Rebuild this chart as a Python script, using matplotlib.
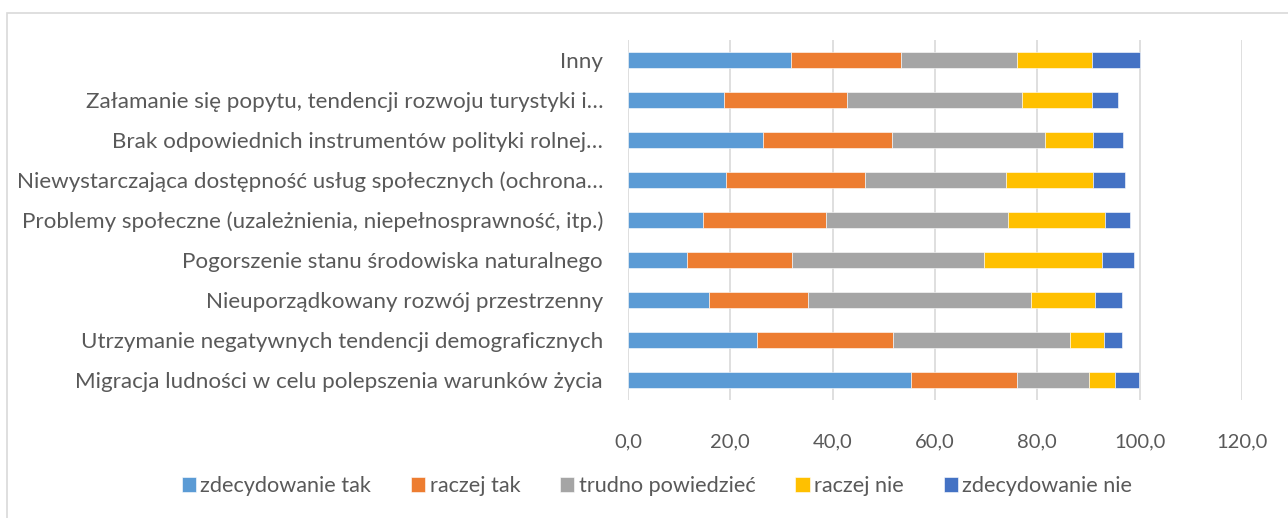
import matplotlib
matplotlib.use("Agg")
import matplotlib.pyplot as plt
from matplotlib.patches import Rectangle
import numpy as np

plt.rcParams['font.family'] = ['Lato', 'DejaVu Sans']

categories = [
    "Migracja ludności w celu polepszenia warunków życia",
    "Utrzymanie negatywnych tendencji demograficznych",
    "Nieuporządkowany rozwój przestrzenny",
    "Pogorszenie stanu środowiska naturalnego",
    "Problemy społeczne (uzależnienia, niepełnosprawność, itp.)",
    "Niewystarczająca dostępność usług społecznych (ochrona…",
    "Brak odpowiednich instrumentów polityki rolnej…",
    "Załamanie się popytu, tendencji rozwoju turystyki i…",
    "Inny",
]
series_names = ["zdecydowanie tak", "raczej tak", "trudno powiedzieć",
                "raczej nie", "zdecydowanie nie"]
zdecydowanie_tak = [55.4, 25.3, 15.9, 11.6, 14.7, 19.2, 26.3, 18.7, 31.9]
raczej_tak       = [20.7, 26.5, 19.3, 20.5, 24.0, 27.1, 25.2, 24.1, 21.4]
trudno           = [14.0, 34.6, 43.5, 37.5, 35.6, 27.6, 30.0, 34.2, 22.8]
raczej_nie       = [5.1, 6.7, 12.5, 23.1, 19.0, 17.0, 9.4, 13.6, 14.6]
zdecydowanie_nie = [4.7, 3.5, 5.4, 6.2, 4.9, 6.3, 5.9, 5.2, 9.3]
x_ticks = [0, 20, 40, 60, 80, 100, 120]

colors = ["#5B9BD5", "#ED7D31", "#A5A5A5", "#FFC000", "#4472C4"]
text_color = "#595959"

fig = plt.figure(figsize=(12.88, 5.18), dpi=100)
ax = fig.add_axes([628/1288, 1-400/518, (1242-628)/1288, 360/518])

data = [zdecydowanie_tak, raczej_tak, trudno, raczej_nie, zdecydowanie_nie]
y = np.arange(len(categories))
left = np.zeros(len(categories))
handles = []
for vals, name, c in zip(data, series_names, colors):
    vals = np.array(vals)
    h = ax.barh(y, vals, left=left, height=0.41, color=c, label=name,
                edgecolor="white", linewidth=0.4, zorder=3)
    handles.append(h)
    left += vals

ax.set_xlim(0, 120)
ax.set_ylim(-0.5, len(categories) - 0.5)
ax.set_xticks(x_ticks)
ax.set_xticklabels([f"{v:.1f}".replace(".", ",") for v in x_ticks])
ax.set_yticks(y)
ax.set_yticklabels(categories)
ax.tick_params(axis="both", length=0, colors=text_color)
ax.tick_params(axis="x", pad=24, labelsize=14.5)
ax.tick_params(axis="y", pad=18, labelsize=16.1)
ax.grid(axis="x", color="#D9D9D9", linewidth=1.2, zorder=0)
for s in ax.spines.values():
    s.set_visible(False)

leg = fig.legend(handles=handles, labels=series_names, loc="center",
                 bbox_to_anchor=(657/1288, 1-486/518), ncol=5, frameon=False,
                 fontsize=15.6, handlelength=0.65, handleheight=0.65,
                 handletextpad=0.2, columnspacing=1.85)
for t in leg.get_texts():
    t.set_color(text_color)

# outer chart border (top and left visible)
fig.patches.append(Rectangle((7/1288, -0.2), 1.5, 1 - 12.5/518 + 0.2,
                             transform=fig.transFigure, fill=False,
                             edgecolor="#D9D9D9", linewidth=1.2))

fig.savefig("out.png", dpi=100)
